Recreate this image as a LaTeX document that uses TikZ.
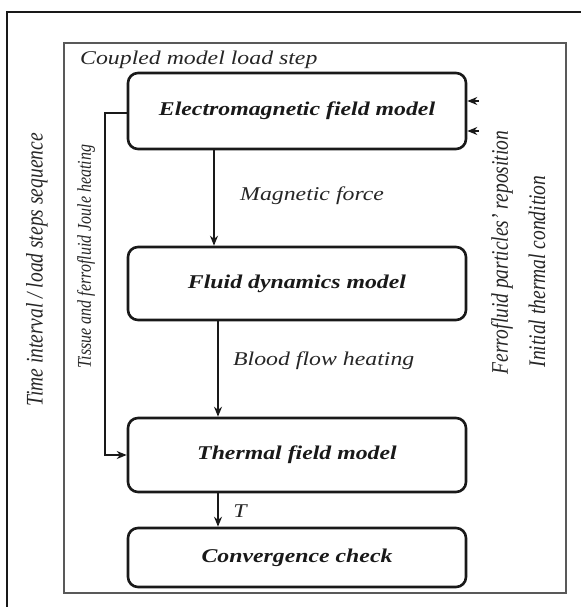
\documentclass[tikz,border=0pt]{standalone}
\usepackage{fontspec}
\usepackage{graphicx}
\setmainfont{Liberation Serif}
\usetikzlibrary{arrows.meta}
\newcommand\hstr[1]{\scalebox{1.22}[1]{#1}}
\newcommand\vstr[1]{\scalebox{1}[1.22]{#1}}
\begin{document}
\begin{tikzpicture}[x=1pt,y=-1pt,
  box/.style={draw=black!90, line width=2.6pt, rounded corners=10pt, minimum width=338pt, inner sep=0pt, font=\fontsize{19.5}{22}\selectfont\bfseries\itshape, text=black!90},
  arr/.style={draw=black!90, line width=1.5pt, -{Stealth[length=10pt,width=8pt]}},
  lbl/.style={font=\fontsize{19.5}{22}\selectfont\itshape, inner sep=0pt, text=black!85},
  frame/.style={draw=black!65, line width=1.4pt}]
\useasboundingbox (0,0) rectangle (581,607);
% outer frame
\draw[line width=2pt, black!90] (7,607) -- (7,12) -- (581,12);
% inner frame
\draw[frame] (64,43) rectangle (566,593);
\node[lbl, anchor=west] (cap) at (80,60) {\hstr{Coupled model load step}};
% boxes
\node[box, minimum height=76pt] (em) at (297,111) {\hstr{Electromagnetic field model}};
\node[box, minimum height=73pt] (fluid) at (297,283.5) {\hstr{Fluid dynamics model}};
\node[box, minimum height=74pt] (thermal) at (297,455) {\hstr{Thermal field model}};
\node[box, minimum height=59pt] (conv) at (297,557.5) {\hstr{Convergence check}};
% connectors
\draw[arr] ([xshift=-83pt]em.south) -- ([xshift=-83pt]fluid.north);
\draw[arr] ([xshift=-79pt]fluid.south) -- ([xshift=-79pt]thermal.north);
\draw[arr] ([xshift=-79pt]thermal.south) -- ([xshift=-79pt]conv.north);
\coordinate (lp) at (105,113);
\draw[arr] (lp -| em.west) -- (lp) |- (thermal.west);
\coordinate (r1) at (479,101);
\coordinate (r2) at (479,131);
\draw[arr] (r1) -- (r1 -| em.east);
\draw[arr] (r2) -- (r2 -| em.east);
% labels
\node[lbl, anchor=west] (mf) at (240,196) {\hstr{Magnetic force}};
\node[lbl, anchor=west] (bf) at (233,361) {\hstr{Blood flow heating}};
\node[lbl] (tt) at (240,511) {\hstr{T}};
\node[lbl, rotate=90, font=\fontsize{16}{19}\selectfont\itshape] (tj) at (86,256.5) {\vstr{Tissue and ferrofluid Joule heating}};
\node[lbl, rotate=90] (ti) at (37,270) {\vstr{Time interval / load steps sequence}};
\node[lbl, rotate=90] (fp) at (502,252.5) {\vstr{Ferrofluid particles’ reposition}};
\node[lbl, rotate=90] (ic) at (537,271.5) {\vstr{Initial thermal condition}};
\end{tikzpicture}
\end{document}
